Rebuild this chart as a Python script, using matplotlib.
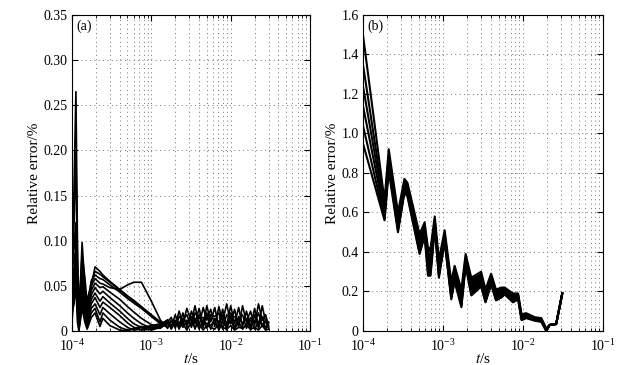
import matplotlib
matplotlib.use("Agg")
import matplotlib.pyplot as plt
from matplotlib.ticker import LogLocator, FixedLocator, FixedFormatter, NullFormatter

plt.rcParams["font.family"] = ["Liberation Serif", "DejaVu Serif"]
plt.rcParams["mathtext.fontset"] = "stix"

# ---- panel (a): early part, many curves with spikes then decay ----
t_early = [1.0e-4, 1.06e-4, 1.12e-4, 1.17e-4, 1.22e-4, 1.34e-4, 1.45e-4, 1.55e-4,
           1.75e-4, 1.95e-4, 2.25e-4, 2.45e-4, 3.0e-4, 4.0e-4, 5.0e-4, 6.0e-4,
           7.5e-4, 1.0e-3, 1.3e-3, 1.6e-3]

a_c1 = [0.06, 0.16, 0.265, 0.10, 0.005, 0.075, 0.03, 0.01, 0.05, 0.071, 0.066, 0.062, 0.055, 0.046, 0.039, 0.034, 0.027, 0.018, 0.010, 0.004]
a_c2 = [0.04, 0.12, 0.20, 0.08, 0.010, 0.098, 0.05, 0.02, 0.055, 0.066, 0.063, 0.060, 0.054, 0.045, 0.038, 0.033, 0.026, 0.017, 0.009, 0.004]
a_c3 = [0.08, 0.14, 0.18, 0.06, 0.020, 0.085, 0.06, 0.03, 0.055, 0.062, 0.058, 0.057, 0.051, 0.043, 0.036, 0.031, 0.025, 0.016, 0.008, 0.005]
a_c4 = [0.10, 0.09, 0.12, 0.05, 0.030, 0.070, 0.045, 0.035, 0.050, 0.058, 0.053, 0.052, 0.048, 0.046, 0.051, 0.054, 0.054, 0.033, 0.012, 0.003]
a_c5 = [0.02, 0.06, 0.10, 0.04, 0.005, 0.060, 0.04, 0.025, 0.045, 0.053, 0.048, 0.049, 0.043, 0.035, 0.027, 0.021, 0.014, 0.007, 0.004, 0.008]
a_c6 = [0.03, 0.05, 0.08, 0.03, 0.015, 0.050, 0.035, 0.015, 0.040, 0.048, 0.041, 0.044, 0.037, 0.028, 0.020, 0.014, 0.008, 0.003, 0.003, 0.009]
a_c7 = [0.01, 0.04, 0.07, 0.02, 0.003, 0.045, 0.03, 0.010, 0.035, 0.042, 0.033, 0.038, 0.031, 0.022, 0.014, 0.008, 0.004, 0.001, 0.004, 0.010]
a_c8 = [0.05, 0.07, 0.06, 0.04, 0.008, 0.040, 0.025, 0.008, 0.030, 0.037, 0.026, 0.032, 0.026, 0.017, 0.009, 0.004, 0.001, 0.002, 0.005, 0.010]
a_c9 = [0.07, 0.08, 0.09, 0.05, 0.002, 0.035, 0.02, 0.005, 0.025, 0.030, 0.018, 0.026, 0.019, 0.010, 0.004, 0.001, 0.002, 0.005, 0.007, 0.011]
a_c10 = [0.09, 0.10, 0.11, 0.07, 0.001, 0.030, 0.015, 0.003, 0.020, 0.025, 0.010, 0.020, 0.012, 0.004, 0.001, 0.002, 0.004, 0.006, 0.008, 0.012]
a_c11 = [0.02, 0.03, 0.05, 0.01, 0.000, 0.025, 0.01, 0.002, 0.015, 0.020, 0.005, 0.014, 0.006, 0.001, 0.000, 0.003, 0.005, 0.003, 0.006, 0.012]

# ---- panel (a): late part, small zigzag errors ----
t_late = [1.6e-3, 1.78e-3, 2.0e-3, 2.24e-3, 2.5e-3, 2.8e-3, 3.2e-3, 3.55e-3, 4.0e-3,
          4.5e-3, 5.0e-3, 5.6e-3, 6.3e-3, 7.1e-3, 7.9e-3, 8.9e-3, 1.0e-2, 1.12e-2,
          1.26e-2, 1.41e-2, 1.58e-2, 1.78e-2, 2.0e-2, 2.24e-2, 2.5e-2, 2.75e-2, 3.0e-2]

a_l1 = [0.004, 0.012, 0.006, 0.022, 0.008, 0.025, 0.010, 0.028, 0.006, 0.026, 0.012, 0.024, 0.005, 0.027, 0.010, 0.030, 0.008, 0.024, 0.004, 0.028, 0.010, 0.022, 0.006, 0.030, 0.012, 0.018, 0.006]
a_l2 = [0.008, 0.004, 0.018, 0.006, 0.020, 0.004, 0.022, 0.008, 0.025, 0.006, 0.028, 0.010, 0.026, 0.004, 0.024, 0.006, 0.028, 0.008, 0.026, 0.005, 0.022, 0.004, 0.025, 0.006, 0.028, 0.010, 0.004]
a_l3 = [0.010, 0.015, 0.003, 0.016, 0.012, 0.018, 0.004, 0.020, 0.014, 0.015, 0.003, 0.018, 0.016, 0.020, 0.002, 0.018, 0.014, 0.016, 0.012, 0.018, 0.003, 0.015, 0.010, 0.020, 0.005, 0.012, 0.003]
a_l4 = [0.012, 0.006, 0.012, 0.002, 0.014, 0.008, 0.016, 0.002, 0.018, 0.004, 0.020, 0.002, 0.014, 0.010, 0.018, 0.001, 0.020, 0.003, 0.016, 0.008, 0.014, 0.001, 0.018, 0.003, 0.016, 0.002, 0.008]
a_l5 = [0.009, 0.010, 0.008, 0.010, 0.004, 0.012, 0.006, 0.014, 0.002, 0.012, 0.008, 0.006, 0.012, 0.001, 0.010, 0.004, 0.012, 0.002, 0.010, 0.002, 0.008, 0.012, 0.002, 0.010, 0.008, 0.004, 0.010]
a_l6 = [0.011, 0.002, 0.010, 0.004, 0.008, 0.001, 0.010, 0.004, 0.008, 0.001, 0.006, 0.004, 0.002, 0.008, 0.004, 0.002, 0.006, 0.001, 0.004, 0.003, 0.006, 0.002, 0.004, 0.001, 0.006, 0.001, 0.002]

# ---- panel (b): band of curves decaying with oscillations ----
t_b = [1.0e-4, 1.86e-4, 2.1e-4, 2.74e-4, 3.3e-4, 3.6e-4, 5.1e-4, 5.9e-4, 6.5e-4, 7.0e-4,
       7.9e-4, 8.9e-4, 1.05e-3, 1.27e-3, 1.4e-3, 1.7e-3, 1.92e-3, 2.26e-3, 3.0e-3, 3.4e-3,
       4.0e-3, 4.6e-3, 5.4e-3, 5.9e-3, 7.5e-3, 8.7e-3, 9.6e-3, 1.1e-2, 1.4e-2, 1.7e-2,
       1.96e-2, 2.15e-2, 2.6e-2, 3.1e-2]

b_c1 = [1.50, 0.66, 0.92, 0.60, 0.77, 0.75, 0.49, 0.55, 0.42, 0.42, 0.58, 0.36, 0.51, 0.25, 0.33, 0.21, 0.39, 0.27, 0.30, 0.21, 0.29, 0.21, 0.22, 0.22, 0.19, 0.19, 0.085, 0.09, 0.07, 0.065, 0.012, 0.032, 0.036, 0.19]
b_c2 = [1.35, 0.63, 0.89, 0.57, 0.75, 0.73, 0.46, 0.53, 0.38, 0.38, 0.56, 0.33, 0.49, 0.22, 0.31, 0.18, 0.37, 0.24, 0.28, 0.19, 0.27, 0.19, 0.20, 0.21, 0.175, 0.18, 0.075, 0.08, 0.065, 0.058, 0.006, 0.031, 0.035, 0.19]
b_c3 = [1.24, 0.61, 0.87, 0.55, 0.74, 0.72, 0.44, 0.52, 0.35, 0.35, 0.55, 0.31, 0.48, 0.20, 0.29, 0.16, 0.36, 0.22, 0.26, 0.17, 0.26, 0.18, 0.19, 0.20, 0.165, 0.175, 0.068, 0.075, 0.062, 0.054, 0.002, 0.030, 0.035, 0.19]
b_c4 = [1.14, 0.59, 0.85, 0.53, 0.725, 0.705, 0.42, 0.51, 0.32, 0.32, 0.54, 0.29, 0.47, 0.18, 0.28, 0.14, 0.35, 0.20, 0.245, 0.16, 0.25, 0.17, 0.18, 0.195, 0.158, 0.17, 0.062, 0.072, 0.06, 0.050, 0.0, 0.030, 0.035, 0.19]
b_c5 = [1.04, 0.57, 0.83, 0.51, 0.71, 0.69, 0.40, 0.49, 0.30, 0.30, 0.53, 0.28, 0.46, 0.17, 0.265, 0.13, 0.34, 0.19, 0.235, 0.15, 0.24, 0.16, 0.175, 0.19, 0.15, 0.165, 0.058, 0.068, 0.056, 0.048, 0.0, 0.030, 0.035, 0.19]
b_c6 = [0.95, 0.56, 0.81, 0.50, 0.70, 0.68, 0.39, 0.48, 0.28, 0.28, 0.52, 0.27, 0.45, 0.16, 0.25, 0.12, 0.33, 0.18, 0.225, 0.145, 0.235, 0.155, 0.17, 0.185, 0.145, 0.16, 0.055, 0.065, 0.052, 0.046, 0.0, 0.030, 0.035, 0.19]

yt_a = [0, 0.05, 0.10, 0.15, 0.20, 0.25, 0.30, 0.35]
yl_a = ["0", "0.05", "0.10", "0.15", "0.20", "0.25", "0.30", "0.35"]
yt_b = [0, 0.2, 0.4, 0.6, 0.8, 1.0, 1.2, 1.4, 1.6]
yl_b = ["0", "0.2", "0.4", "0.6", "0.8", "1.0", "1.2", "1.4", "1.6"]

fig = plt.figure(figsize=(6.39, 3.65), dpi=100)
ax_a = fig.add_axes([0.1127, 0.0932, 0.3725, 0.8658])
ax_b = fig.add_axes([0.568, 0.0932, 0.3756, 0.8658])

for c in [a_c1, a_c2, a_c3, a_c4, a_c5, a_c6, a_c7, a_c8, a_c9, a_c10, a_c11]:
    ax_a.plot(t_early, c, color="black", lw=1.2)
for c in [a_l1, a_l2, a_l3, a_l4, a_l5, a_l6]:
    ax_a.plot(t_late, c, color="black", lw=1.2)

# solid band after the first segment, separate lines visible at the start
ax_b.fill_between(t_b[1:], b_c6[1:], b_c1[1:], color="black", lw=0)
for c in [b_c1, b_c2, b_c3, b_c4, b_c5, b_c6]:
    ax_b.plot(t_b, c, color="black", lw=1.5)


def style(ax, yt, yl, ymax, label):
    ax.set_xscale("log")
    ax.set_xlim(1e-4, 1e-1)
    ax.set_ylim(0, ymax)
    ax.xaxis.set_major_locator(LogLocator(base=10, numticks=10))
    ax.xaxis.set_minor_locator(LogLocator(base=10, subs=range(2, 10), numticks=20))
    ax.xaxis.set_minor_formatter(NullFormatter())
    ax.yaxis.set_major_locator(FixedLocator(yt))
    ax.yaxis.set_major_formatter(FixedFormatter(yl))
    ax.grid(True, which="major", axis="both", color="0.45", lw=0.7, linestyle=(0, (1, 3.5)))
    ax.grid(True, which="minor", axis="x", color="0.45", lw=0.7, linestyle=(0, (1, 3.5)))
    ax.tick_params(which="both", direction="in", top=True, right=True, labelsize=10)
    ax.tick_params(axis="x", pad=5)
    ax.tick_params(axis="y", pad=3)
    ax.tick_params(which="major", length=4)
    ax.tick_params(which="minor", length=2)
    for s in ax.spines.values():
        s.set_linewidth(0.8)
    ax.set_xlabel(r"$t$/s", fontsize=11, labelpad=-1)
    ax.set_ylabel("Relative error/%", fontsize=11, labelpad=2)
    ax.text(0.02, 0.985, label, transform=ax.transAxes, ha="left", va="top", fontsize=10)


style(ax_a, yt_a, yl_a, 0.35, "(a)")
style(ax_b, yt_b, yl_b, 1.6, "(b)")

fig.savefig("out.png", dpi=100)
